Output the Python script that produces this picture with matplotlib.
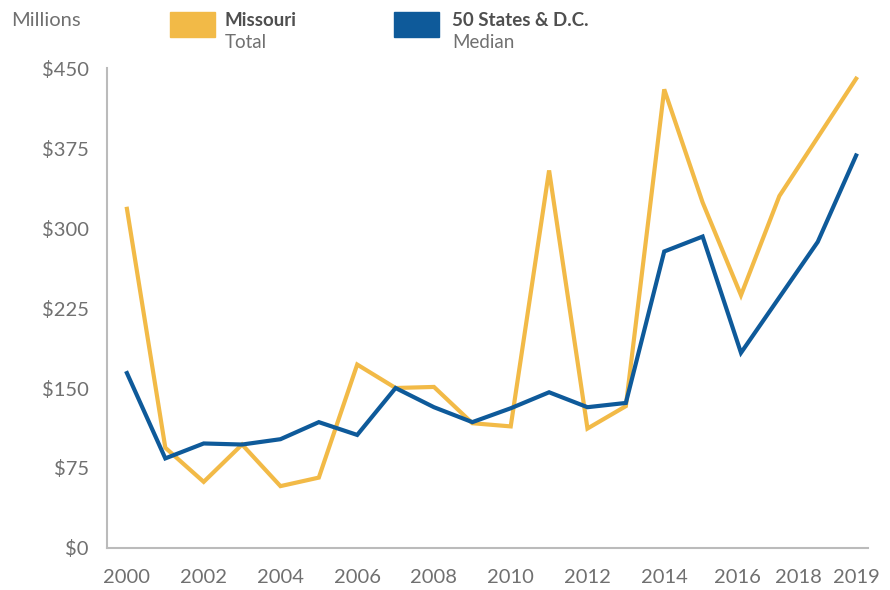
import numpy as np
import matplotlib.pyplot as plt
from matplotlib.patches import Rectangle

plt.rcParams['font.family'] = ['Lato', 'DejaVu Sans']

years = np.arange(2000, 2020)
missouri = [318, 94, 62, 97, 58, 66, 172, 150, 151, 117,
            114, 354, 112, 133, 430, 324, 237, 330, 385, 440]
median = [164, 84, 98, 97, 102, 118, 106, 150, 132, 118,
          131, 146, 132, 136, 278, 292, 183, 235, 287, 368]

tick_pos = [2000, 2002, 2004, 2006, 2008, 2010, 2012, 2014, 2015.9, 2017.5, 2019]
tick_labels = ['2000', '2002', '2004', '2006', '2008', '2010', '2012',
               '2014', '2016', '2018', '2019']
y_ticks = [0, 75, 150, 225, 300, 375, 450]

yellow = '#F2BA47'
blue = '#0E5A9A'
grey_text = '#707070'

fig = plt.figure(figsize=(8.9, 5.9), dpi=100)
ax = fig.add_axes([0.1202, 0.0712, 0.8551, 0.8135])

ax.plot(years, missouri, color=yellow, lw=3, solid_joinstyle='miter')
ax.plot(years, median, color=blue, lw=3, solid_joinstyle='miter')

ax.set_xlim(1999.48, 2019.31)
ax.set_ylim(0, 450)
ax.set_yticks(y_ticks)
ax.set_yticklabels(['$' + str(v) for v in y_ticks])
ax.set_xticks(tick_pos)
ax.set_xticklabels(tick_labels)
ax.tick_params(length=0, labelsize=14.5, colors=grey_text)
ax.tick_params(axis='y', pad=13)
ax.tick_params(axis='x', pad=15)

for s in ['top', 'right']:
    ax.spines[s].set_visible(False)
for s in ['left', 'bottom']:
    ax.spines[s].set_color('#bbbbbb')
    ax.spines[s].set_linewidth(1.5)

# header: unit + legend
fig.text(11 / 890, 1 - 21 / 590, 'Millions', fontsize=14.5,
         color=grey_text, va='center')

fig.patches.append(Rectangle((170 / 890, 1 - 37 / 590), 45 / 890, 25 / 590,
                             transform=fig.transFigure, color=yellow))
fig.text(225 / 890, 1 - 21 / 590, 'Missouri', fontsize=13.5, fontweight='bold',
         color='#4f4f4f', va='center')
fig.text(225 / 890, 1 - 43 / 590, 'Total', fontsize=13.5,
         color=grey_text, va='center')

fig.patches.append(Rectangle((394 / 890, 1 - 37 / 590), 45 / 890, 25 / 590,
                             transform=fig.transFigure, color=blue))
fig.text(452 / 890, 1 - 21 / 590, '50 States & D.C.', fontsize=13.5, fontweight='bold',
         color='#4f4f4f', va='center')
fig.text(452 / 890, 1 - 43 / 590, 'Median', fontsize=13.5,
         color=grey_text, va='center')

fig.savefig('out.png', dpi=100)
